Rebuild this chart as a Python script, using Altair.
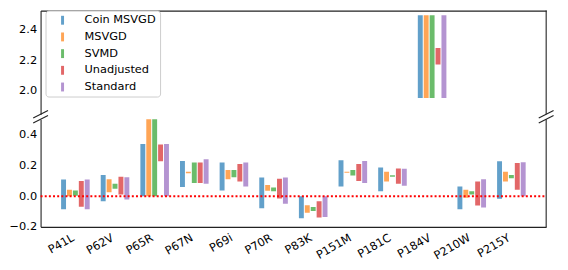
import altair as alt
import pandas as pd

categories = ["P41L", "P62V", "P65R", "P67N", "P69i", "P70R", "P83K",
              "P151M", "P181C", "P184V", "P210W", "P215Y"]
series = ["Coin MSVGD", "MSVGD", "SVMD", "Unadjusted", "Standard"]
colors = ["#1f77b4", "#ff7f0e", "#2ca02c", "#d62728", "#9467bd"]

coin_lo = [-0.085, -0.032, 0.0, 0.060, 0.038, -0.079, -0.143, 0.064, 0.032, 1.952, -0.085, -0.017]
coin_hi = [0.110, 0.139, 0.342, 0.231, 0.221, 0.122, 0.0, 0.235, 0.188, 2.494, 0.064, 0.229]
msvgd_lo = [0.0, 0.026, 0.0, 0.150, 0.111, 0.036, -0.107, 0.154, 0.096, 1.952, -0.010, 0.096]
msvgd_hi = [0.043, 0.111, 0.520, 0.160, 0.171, 0.073, -0.058, 0.160, 0.160, 2.494, 0.043, 0.160]
svmd_lo = [0.003, 0.049, 0.0, 0.086, 0.124, 0.032, -0.096, 0.135, 0.128, 1.952, 0.011, 0.118]
svmd_hi = [0.037, 0.081, 0.520, 0.220, 0.171, 0.058, -0.070, 0.171, 0.137, 2.494, 0.032, 0.139]
unadj_lo = [-0.068, 0.011, 0.229, 0.086, 0.096, -0.015, -0.139, 0.100, 0.081, 2.172, -0.060, 0.043]
unadj_hi = [0.100, 0.128, 0.338, 0.220, 0.210, 0.115, -0.032, 0.210, 0.182, 2.279, 0.096, 0.218]
std_lo = [-0.085, -0.021, 0.0, 0.081, 0.064, -0.049, -0.135, 0.086, 0.069, 1.952, -0.074, 0.0]
std_hi = [0.110, 0.124, 0.342, 0.242, 0.221, 0.122, 0.0, 0.231, 0.179, 2.494, 0.111, 0.222]

top_ticks = [2.0, 2.2, 2.4]
bottom_ticks = [-0.2, 0.0, 0.2, 0.4]
zero_line = [0.0]

lows = [coin_lo, msvgd_lo, svmd_lo, unadj_lo, std_lo]
highs = [coin_hi, msvgd_hi, svmd_hi, unadj_hi, std_hi]
rows = []
for s, lo_list, hi_list in zip(series, lows, highs):
    for c, lo, hi in zip(categories, lo_list, hi_list):
        rows.append({"cat": c, "series": s, "lo": lo, "hi": hi})
df = pd.DataFrame(rows)
one = pd.DataFrame({"a": [0]})

W = 512
H_TOP = 105
H_BOT = 109
FONT = "DejaVu Sans"
FS = 11.5
SPINE = "#222222"

xscale = alt.Scale(paddingInner=0.254, paddingOuter=0.505)
xoff = alt.XOffset("series:N", sort=series,
                   scale=alt.Scale(paddingInner=1 / 6, paddingOuter=1 / 12))


def color_enc(legend):
    return alt.Color("series:N", sort=series,
                     scale=alt.Scale(domain=series, range=colors), legend=legend)


def rule(x1, y1, x2, y2, color=SPINE, width=1.1):
    return alt.Chart(one).mark_rule(color=color, strokeWidth=width).encode(
        x=alt.value(x1), y=alt.value(y1), x2=alt.value(x2), y2=alt.value(y2))


legend = alt.Legend(
    title=None, orient="none", legendX=5, legendY=0,
    symbolType="M-0.333,-1L0.333,-1L0.333,1L-0.333,1Z", symbolSize=81,
    symbolOffset=7.5, symbolOpacity=0.7, symbolStrokeWidth=0,
    labelFont=FONT, labelFontSize=FS, labelOffset=16.5, labelColor="black",
    rowPadding=3.9, padding=4, strokeColor="#cccccc", cornerRadius=3,
    fillColor="white")

top_bars = alt.Chart(df).mark_bar(clip=True, opacity=0.7).encode(
    x=alt.X("cat:N", sort=categories, scale=xscale,
            axis=alt.Axis(orient="top", labels=False, ticks=False, domain=True,
                          title=None)),
    xOffset=xoff,
    y=alt.Y("lo:Q", scale=alt.Scale(domain=[1.845, 2.5245], nice=False, zero=False),
            axis=alt.Axis(values=top_ticks, format=".1f", ticks=False,
                          labelPadding=4, title=None)),
    y2="hi:Q",
    color=color_enc(legend),
)

top = alt.layer(
    top_bars,
    rule(W, 0, W, H_TOP),
    rule(-7.5, H_TOP + 3.75, 7.5, H_TOP - 3.75),
    rule(W - 7.5, H_TOP + 3.75, W + 7.5, H_TOP - 3.75),
).properties(width=W, height=H_TOP)

bot_y_scale = alt.Scale(domain=[-0.2, 0.503], nice=False, zero=False)


def bot_y_axis():
    return alt.Axis(values=bottom_ticks, format=".1f", ticks=False,
                    labelOverlap=False, labelColor="black",
                    labelPadding=4, title=None)


bot_bars = alt.Chart(df).mark_bar(clip=True, opacity=0.7).encode(
    x=alt.X("cat:N", sort=categories, scale=xscale,
            axis=alt.Axis(labelAngle=330, labelAlign="right", labelBaseline="top",
                          ticks=False, labelPadding=5, labelOffset=-5,
                          title=None)),
    xOffset=xoff,
    y=alt.Y("lo:Q", scale=bot_y_scale, axis=bot_y_axis()),
    y2="hi:Q",
    color=color_enc(None),
)

zero = alt.Chart(pd.DataFrame({"lo": zero_line})).mark_rule(
    color="red", strokeDash=[2, 2.2], strokeWidth=2).encode(
    y=alt.Y("lo:Q", scale=bot_y_scale, axis=bot_y_axis()),
    x=alt.value(0), x2=alt.value(W))

bottom = alt.layer(
    bot_bars,
    zero,
    rule(W, 0, W, H_BOT),
    rule(-7.5, 3.75, 7.5, -3.75),
    rule(W - 7.5, 3.75, W + 7.5, -3.75),
).properties(width=W, height=H_BOT)

chart = alt.vconcat(top, bottom, spacing=5, bounds="flush").resolve_scale(
    y="independent", color="independent"
).properties(
    padding={"left": 1, "top": 0, "right": 5, "bottom": 5}
).configure_view(stroke=None).configure_axis(
    labelFont=FONT, labelFontSize=FS, labelColor="black",
    domainColor=SPINE, domainWidth=1.1, grid=False,
)

chart.save("out.html", embed_options={"renderer": "svg", "actions": False})
